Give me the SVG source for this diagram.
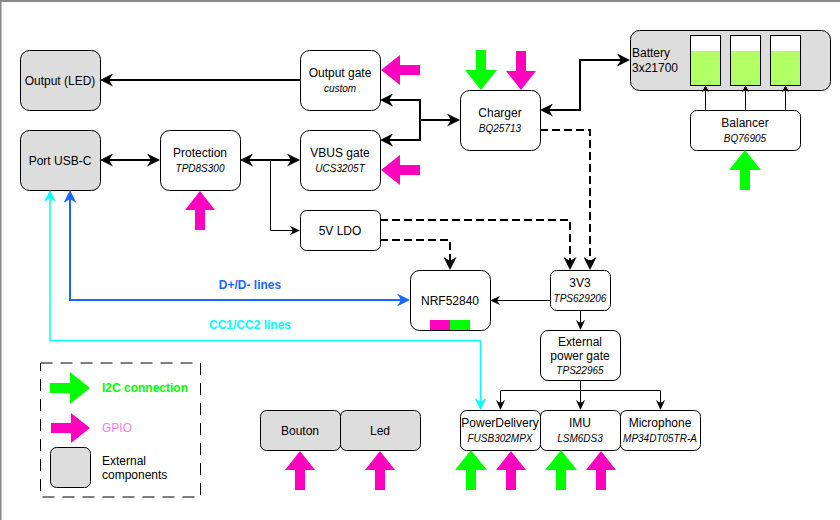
<svg xmlns="http://www.w3.org/2000/svg" width="840" height="520" viewBox="0 0 840 520">
<style>
.box{fill:#fff;stroke:#000;stroke-width:1}
.ext{fill:#ddd;stroke:#000;stroke-width:1}
.t{font-family:"Liberation Sans",Arial,Helvetica,sans-serif;font-size:12px;fill:#000;text-anchor:middle}
.i{font-style:italic;font-size:10px}
.l{text-anchor:start}
.w2{fill:none;stroke:#000;stroke-width:2}
.d{stroke-dasharray:8 4}
.w1{fill:none;stroke:#000;stroke-width:1}
</style>
<defs>
<marker id="ab" viewBox="0 0 13 13" markerWidth="13" markerHeight="13" markerUnits="userSpaceOnUse" refX="10" refY="6.5" orient="auto-start-reverse"><path d="M0,0 L13,6.5 L0,13 L4,6.5 Z" fill="#000"/></marker>
<marker id="at" viewBox="0 0 10 9" markerWidth="10" markerHeight="9" markerUnits="userSpaceOnUse" refX="8" refY="4.5" orient="auto-start-reverse"><path d="M0,0 L10,4.5 L0,9 L3,4.5 Z" fill="#000"/></marker>
<marker id="as" viewBox="0 0 7 7" markerWidth="7" markerHeight="7" markerUnits="userSpaceOnUse" refX="6" refY="3.5" orient="auto-start-reverse"><path d="M0,0 L7,3.5 L0,7 L2,3.5 Z" fill="#000"/></marker>
<marker id="bb" viewBox="0 0 13 13" markerWidth="13" markerHeight="13" markerUnits="userSpaceOnUse" refX="10" refY="6.5" orient="auto-start-reverse"><path d="M0,0 L13,6.5 L0,13 L4,6.5 Z" fill="#1a66ff"/></marker>
<marker id="cb" viewBox="0 0 12 12" markerWidth="12" markerHeight="12" markerUnits="userSpaceOnUse" refX="9" refY="6" orient="auto-start-reverse"><path d="M0,0 L12,6 L0,12 L4,6 Z" fill="#00ffff"/></marker>
<polygon id="ga" points="0,0 16,20 5,20 5,40 -5,40 -5,20 -16,20" fill="#00ff00"/>
<polygon id="ma" points="0,0 15,19 5,19 5,39 -5,39 -5,19 -15,19" fill="#ff00bf"/>
</defs>
<rect width="840" height="520" fill="#fff"/>
<path d="M0.5,520 V1 H840" fill="none" stroke="#888" stroke-width="2"/>

<g id="output-led"><rect class="ext" x="20.5" y="50.5" width="80" height="60" rx="9"/><text class="t" x="60" y="84.5">Output (LED)</text></g>
<g id="port-usbc"><rect class="ext" x="20.5" y="130.5" width="80" height="60" rx="9"/><text class="t" x="60" y="164.5">Port USB-C</text></g>
<g id="protection"><rect class="box" x="160.5" y="130.5" width="80" height="60" rx="9"/><text class="t" x="200" y="157">Protection</text><text class="t i" x="200" y="172">TPD8S300</text>
<use href="#ma" x="200" y="191"/></g>
<g id="output-gate"><rect class="box" x="300.5" y="50.5" width="80" height="60" rx="9"/><text class="t" x="340" y="77">Output gate</text><text class="t i" x="340" y="92">custom</text>
<use href="#ma" transform="translate(381,70) rotate(-90)"/></g>
<g id="vbus-gate"><rect class="box" x="300.5" y="130.5" width="80" height="60" rx="9"/><text class="t" x="340" y="157">VBUS gate</text><text class="t i" x="340" y="172">UCS3205T</text>
<use href="#ma" transform="translate(381,170) rotate(-90)"/></g>
<g id="ldo5v"><rect class="box" x="300.5" y="210.5" width="80" height="40" rx="6"/><text class="t" x="340" y="234.5">5V LDO</text></g>
<g id="charger"><rect class="box" x="460.5" y="90.5" width="80" height="60" rx="9"/><text class="t" x="500" y="117">Charger</text><text class="t i" x="500" y="132">BQ25713</text>
<use href="#ga" transform="translate(481,90) rotate(180)"/><use href="#ma" transform="translate(521,90) rotate(180)"/></g>
<g id="battery"><rect class="ext" x="630.5" y="30.5" width="200" height="60" rx="9"/>
<text class="t l" x="632" y="57">Battery</text><text class="t l" x="632" y="71.5">3x21700</text>
<rect x="690.5" y="35.5" width="30" height="50" fill="#fff" stroke="#000"/><rect x="691" y="51" width="29" height="34" fill="#b3ff66"/>
<rect x="730.5" y="35.5" width="30" height="50" fill="#fff" stroke="#000"/><rect x="731" y="51" width="29" height="34" fill="#b3ff66"/>
<rect x="770.5" y="35.5" width="30" height="50" fill="#fff" stroke="#000"/><rect x="771" y="51" width="29" height="34" fill="#b3ff66"/></g>
<g id="balancer"><rect class="box" x="690.5" y="110.5" width="110" height="40" rx="6"/><text class="t" x="745" y="127">Balancer</text><text class="t i" x="745" y="142">BQ76905</text>
<use href="#ga" x="745" y="150"/></g>
<g id="nrf52840"><rect class="box" x="410.5" y="270.5" width="80" height="60" rx="9"/><text class="t" x="450" y="304.5">NRF52840</text>
<rect x="430" y="320" width="20" height="10" fill="#ff00bf"/><rect x="450" y="320" width="20" height="10" fill="#00ff00"/></g>
<g id="reg3v3"><rect class="box" x="550.5" y="270.5" width="60" height="40" rx="6"/><text class="t" x="580" y="287">3V3</text><text class="t i" x="580" y="302">TPS629206</text></g>
<g id="ext-power-gate"><rect class="box" x="540.5" y="330.5" width="80" height="50" rx="7.5"/><text class="t" x="580" y="345.5">External</text><text class="t" x="580" y="359.5">power gate</text><text class="t i" x="580" y="374">TPS22965</text></g>
<g id="bouton"><rect class="ext" x="260.5" y="410.5" width="80" height="40" rx="6"/><text class="t" x="300" y="434.5">Bouton</text><use href="#ma" x="300" y="451"/></g>
<g id="led"><rect class="ext" x="340.5" y="410.5" width="80" height="40" rx="6"/><text class="t" x="380" y="434.5">Led</text><use href="#ma" x="380" y="451"/></g>
<g id="power-delivery"><rect class="box" x="460.5" y="410.5" width="80" height="40" rx="6"/><text class="t" x="500" y="427">PowerDelivery</text><text class="t i" x="500" y="442">FUSB302MPX</text>
<use href="#ga" x="471" y="450"/><use href="#ma" x="511" y="451"/></g>
<g id="imu"><rect class="box" x="540.5" y="410.5" width="80" height="40" rx="6"/><text class="t" x="580" y="427">IMU</text><text class="t i" x="580" y="442">LSM6DS3</text>
<use href="#ga" x="561" y="450"/><use href="#ma" x="601" y="451"/></g>
<g id="microphone"><rect class="box" x="620.5" y="410.5" width="80" height="40" rx="6"/><text class="t" x="660" y="427">Microphone</text><text class="t i" x="660" y="442">MP34DT05TR-A</text></g>

<g id="legend">
<rect x="40.5" y="363" width="160" height="134" fill="none" stroke="#000" stroke-dasharray="12 8"/>
<use href="#ga" transform="translate(90,388) rotate(90)"/>
<text class="t l" x="102" y="392" font-weight="bold" style="fill:#00ff00">I2C connection</text>
<use href="#ma" transform="translate(90,428) rotate(90)"/>
<text class="t l" x="102" y="432" style="fill:#ff80e6">GPIO</text>
<rect class="ext" x="50.5" y="447.5" width="40" height="40" rx="6"/>
<text class="t l" x="102" y="465">External</text>
<text class="t l" x="102" y="479">components</text>
</g>

<g id="connectors">
<path class="w2" d="M300,80 H103" marker-end="url(#ab)"/>
<path class="w2" d="M103,160 H157" marker-start="url(#ab)" marker-end="url(#ab)"/>
<path class="w2" d="M243,160 H297" marker-start="url(#ab)" marker-end="url(#ab)"/>
<path class="w1" d="M270.5,160 V230.5 H298" marker-end="url(#at)"/>
<path class="w2" d="M457,120 H420 V100 H383" marker-start="url(#ab)" marker-end="url(#ab)"/>
<path class="w2" d="M420,120 V140 H383" marker-end="url(#ab)"/>
<path class="w2" d="M543,110 H580 V60 H627" marker-start="url(#ab)" marker-end="url(#ab)"/>
<path class="w2 d" d="M540,130 H590 V267" marker-end="url(#ab)"/>
<path class="w2 d" d="M380,220 H570 V267" marker-end="url(#ab)"/>
<path class="w2 d" d="M380,240 H450 V267" marker-end="url(#ab)"/>
<path class="w1" d="M550,300.5 H492" marker-end="url(#at)"/>
<path class="w1" d="M580.5,310 V328" marker-end="url(#at)"/>
<path class="w1" d="M580.5,380 V408" marker-end="url(#at)"/>
<path class="w1" d="M580.5,390.5 H500.5 V408" marker-end="url(#at)"/>
<path class="w1" d="M580.5,390.5 H660.5 V408" marker-end="url(#at)"/>
<path class="w1" d="M705.5,110 V86" marker-end="url(#as)"/>
<path class="w1" d="M745.5,110 V86" marker-end="url(#as)"/>
<path class="w1" d="M785.5,110 V86" marker-end="url(#as)"/>
<path d="M70,193 V300 H407" fill="none" stroke="#1a66ff" stroke-width="2" marker-start="url(#bb)" marker-end="url(#bb)"/>
<path d="M50,193 V340.5 H480.5 V407" fill="none" stroke="#00ffff" stroke-width="1.5" marker-start="url(#cb)" marker-end="url(#cb)"/>
<text class="t" x="250" y="289" font-weight="bold" style="fill:#1a66ff">D+/D- lines</text>
<text class="t" x="250" y="329" font-weight="bold" style="fill:#00ffff">CC1/CC2 lines</text>
</g>
</svg>
